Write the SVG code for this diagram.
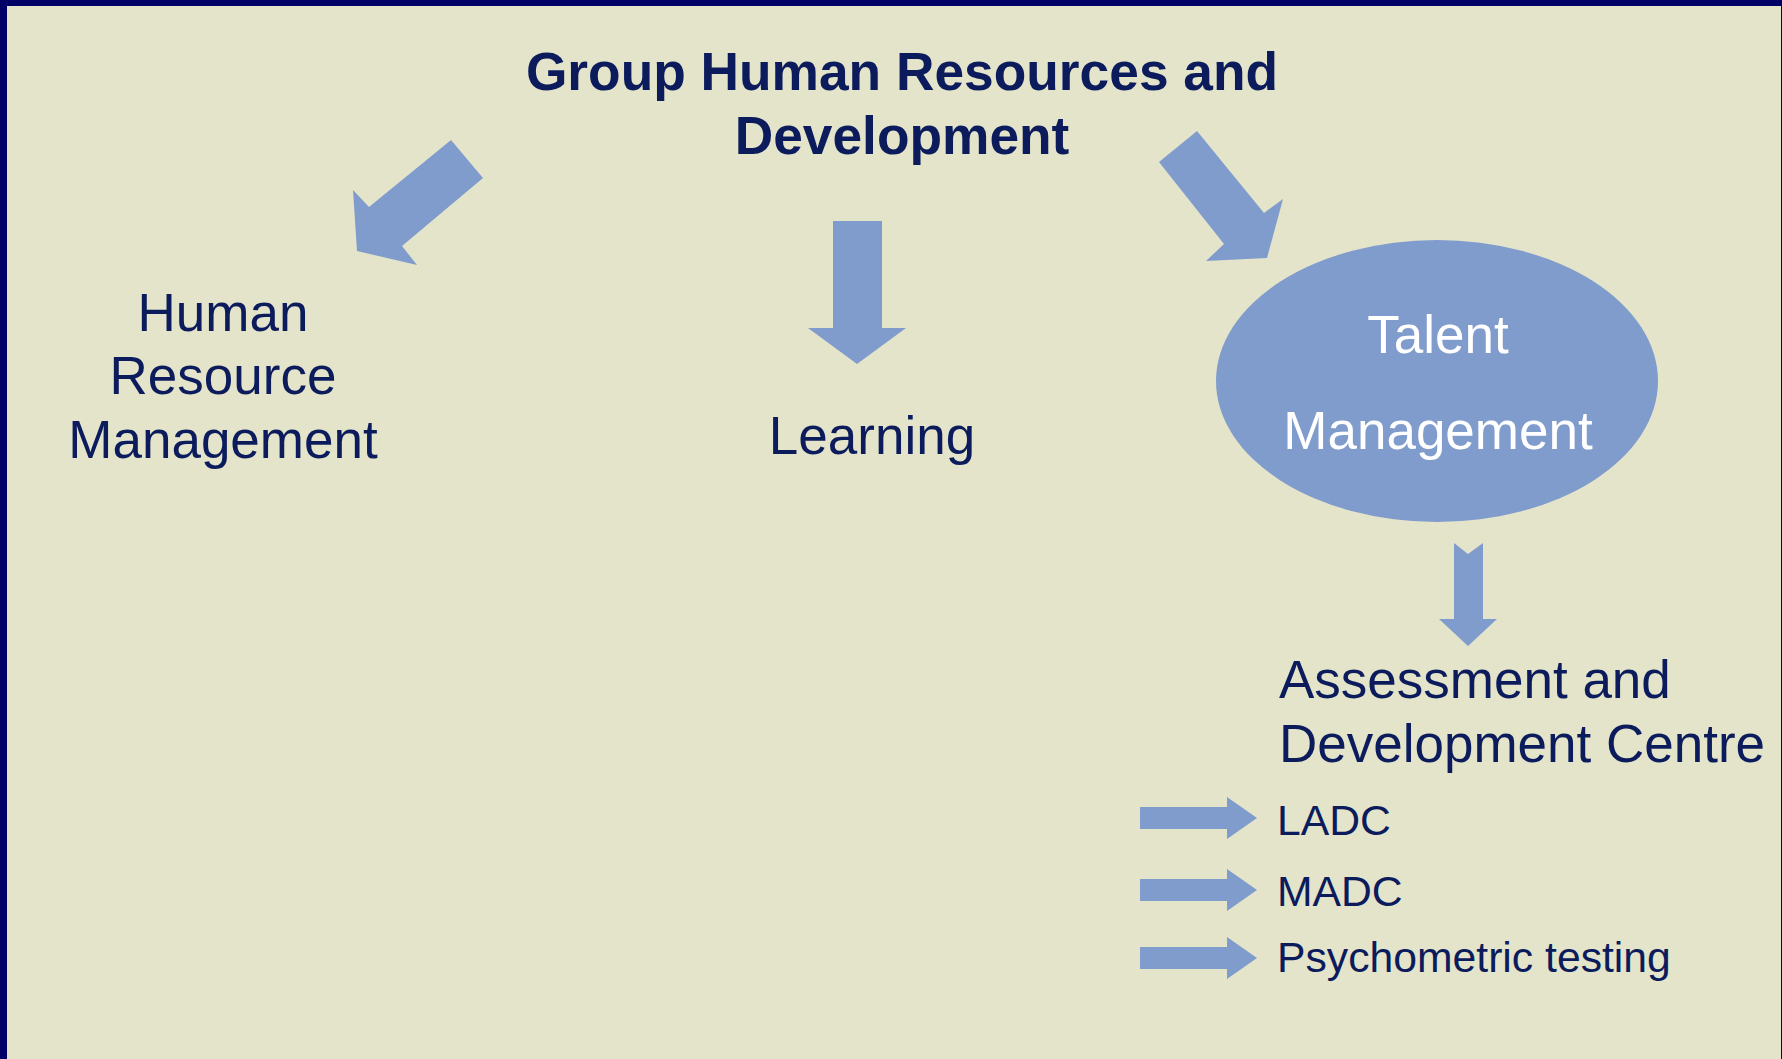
<svg xmlns="http://www.w3.org/2000/svg" width="1782" height="1059" viewBox="0 0 1782 1059">
<style>
.t{font-family:"Liberation Sans",Arial,sans-serif;fill:#0B1B5C}
.b{font-weight:bold;font-size:53.3px}
.m{font-size:53px}
.s{font-size:42.7px}
.w{fill:#FFFFFF}
.a{fill:#809CCD}
</style>
<rect x="0" y="0" width="1782" height="1059" fill="#E3E4CA"/>
<rect x="0" y="0" width="7" height="1059" fill="#000066"/>
<rect x="0" y="0" width="1782" height="6" fill="#000066"/>
<rect x="1781" y="0" width="1" height="1059" fill="#000066"/>
<g id="title">
<text class="t b" x="902" y="90" text-anchor="middle">Group Human Resources and</text>
<text class="t b" x="902" y="154" text-anchor="middle">Development</text>
</g>
<g id="hrm">
<text class="t m" x="223" y="331" text-anchor="middle">Human</text>
<text class="t m" x="223" y="394" text-anchor="middle">Resource</text>
<text class="t m" x="223" y="458" text-anchor="middle">Management</text>
</g>
<g id="learning">
<text class="t m" x="872" y="454" text-anchor="middle">Learning</text>
</g>
<g id="talent">
<ellipse class="a" cx="1437" cy="381" rx="221" ry="141"/>
<text class="t m w" x="1438" y="353" text-anchor="middle">Talent</text>
<text class="t m w" x="1438" y="449" text-anchor="middle">Management</text>
</g>
<g id="adc">
<text class="t m" x="1279" y="698">Assessment and</text>
<text class="t m" x="1279" y="762">Development Centre</text>
</g>
<g id="ladc"><text class="t s" x="1277" y="835">LADC</text></g>
<g id="madc"><text class="t s" x="1277" y="906">MADC</text></g>
<g id="psy"><text class="t s" x="1277" y="972">Psychometric testing</text></g>
<g id="connectors">
<polygon class="a" points="451,140 483,178 402,246 417,265 357,251 353,190 369,207"/>
<polygon class="a" points="833,221 882,221 882,328 906,328 857,364 808,328 833,328"/>
<polygon class="a" points="1197,131 1264,213 1283,199 1267,258 1206,261 1224,244 1159,162"/>
<polygon class="a" points="1454,543 1468,554 1483,543 1483,619 1497,619 1468,646 1439,619 1454,619"/>
<polygon class="a" points="1140,807 1227,807 1227,797 1257,818 1227,839 1227,829 1140,829"/>
<polygon class="a" points="1140,879 1227,879 1227,869 1257,890 1227,911 1227,901 1140,901"/>
<polygon class="a" points="1140,947 1227,947 1227,937 1257,958 1227,979 1227,969 1140,969"/>
</g>
</svg>
